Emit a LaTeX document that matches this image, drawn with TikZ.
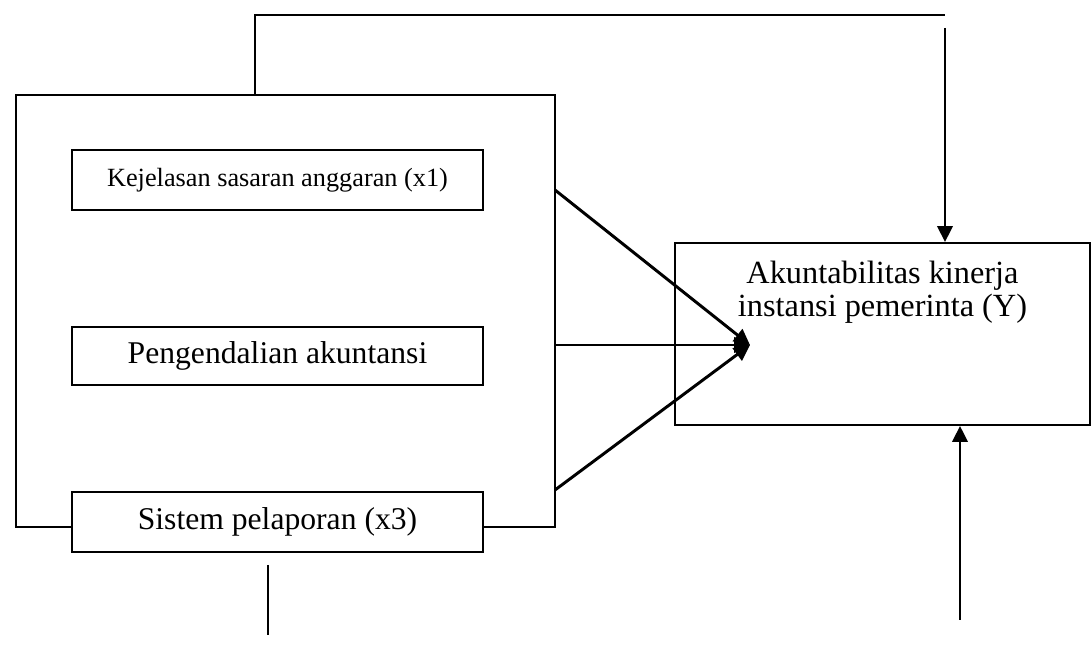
\documentclass[tikz,border=0pt]{standalone}
\usepackage{fontspec}
\setmainfont{Liberation Serif}
\usetikzlibrary{arrows.meta, positioning, calc}

\begin{document}
\begin{tikzpicture}[
  font=\fontsize{22.5}{24}\selectfont,
  bx/.style   ={draw, line width=1.3pt, minimum width=10.275cm,
                minimum height=1.5cm, align=center, inner sep=0pt},
  frm/.style  ={draw, line width=1.3pt},
  % arrow styles -----------------------------------------------------
  infl/.style ={draw, line width=2.1pt, -{Triangle[length=4mm, width=3.8mm]}},
]
\useasboundingbox (0,0) rectangle (27.3,16.2);

% =========================== NODES ==================================
\node[bx, font=\fontsize{18.7}{20}\selectfont] (X1) at (6.9375, 11.70) {Kejelasan sasaran anggaran (x1)};
\node[bx, minimum height=1.45cm]               (X2) at (6.9375,  7.30) {Pengendalian akuntansi};
\node[bx, fill=white]                          (X3) at (6.9375,  3.15) {Sistem pelaporan (x3)};
\node[draw, line width=1.3pt, minimum width=10.375cm, minimum height=4.55cm,
      label={[anchor=north, align=center, yshift=-0.35cm,
              font=\fontsize{23}{23.5}\selectfont]north:{Akuntabilitas kinerja\\instansi pemerinta (Y)}}]
                                               (Y)  at (22.0625, 7.85) {};

% ======================= FRAME AROUND X1..X3 ========================
\coordinate (fbl) at (0.4, 3.025);
\coordinate (ftl) at (0.4, 13.825);
\coordinate (ftr) at (13.875, 13.825);
\coordinate (fbr) at (13.875, 3.025);
\draw[frm] (X3.west |- fbl) -- (fbl) -- (ftl) -- (ftr) -- (fbr) -- (X3.east |- fbr);

% ======================= MODERATING LINES ===========================
\coordinate (top1) at (6.375, 13.825);
\coordinate (top2) at (6.375, 15.825);
\coordinate (top3) at (23.625, 15.825);
\coordinate (mod1) at (23.625, 15.5);
\coordinate (mod2) at (24.0, 0.7);
\coordinate (low1) at (6.7, 2.075);
\coordinate (low2) at (6.7, 0.325);
\draw[frm] (top1) -- (top2) -- (top3);
\draw[infl] (mod1) -- (mod1 |- Y.north);
\draw[infl] (mod2) -- (mod2 |- Y.south);
\draw[frm] (low1) -- (low2);

% ======================= INFLUENCE ARROWS ===========================
\coordinate (hub) at (18.75, 7.575);
\draw[infl] (13.875, 11.45) -- (hub);
\draw[infl] (13.875, 7.575) -- (hub);
\draw[infl] (13.875, 3.95)  -- (hub);

\end{tikzpicture}
\end{document}
